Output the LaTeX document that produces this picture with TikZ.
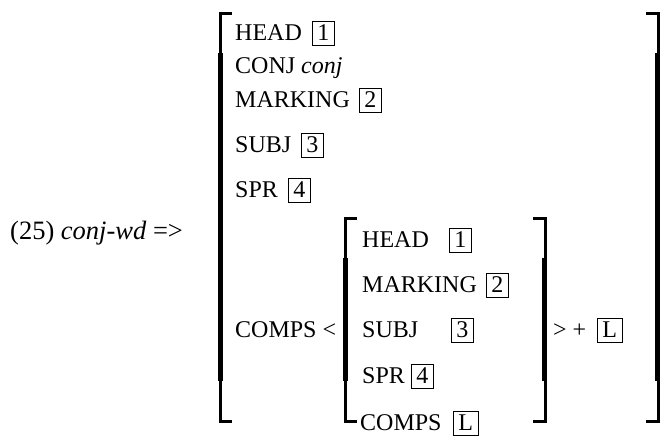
\documentclass[tikz,border=0pt]{standalone}
\usepackage{fontspec}
\setmainfont{Liberation Serif}
\usetikzlibrary{positioning}
\tikzset{
  feat/.style={anchor=base west, inner sep=0pt, font=\fontsize{24}{28}\selectfont},
  tag/.style={draw, line width=0.9pt, anchor=base west, inner xsep=5pt, inner ysep=0pt,
    text height=18.5pt, text depth=5.5pt, font=\fontsize{24}{28}\selectfont},
  brthin/.style={line width=3pt},
  brthick/.style={line width=4.7pt}
}
\begin{document}
\begin{tikzpicture}[x=1pt, y=-1pt]
  \useasboundingbox (0,0) rectangle (662,440);
  % rule name
  \node[feat, font=\fontsize{26.5}{30}\selectfont] (rule) at (10,239) {(25) \textit{conj-wd} =>};
  % brackets: x, top, bottom, direction
  \foreach \x/\t/\b/\d in {220/13/421/1, 658/13/421/-1, 345/218/421/1, 545/218/421/-1} {
    \draw[brthin] (\x+12*\d,\t) -- (\x,\t) -- (\x,\t+40);
    \draw[brthick] (\x+0.8*\d,\t+40) -- (\x+0.8*\d,\b-40);
    \draw[brthin] (\x,\b-40) -- (\x,\b) -- (\x+12*\d,\b);
  }
  % outer matrix
  \node[feat] (head) at (235,40) {HEAD};
  \node[tag] (h1) at (312,40) {1};
  \node[feat] (conj) at (235,73) {CONJ \textit{conj}};
  \node[feat] (mark) at (235,107) {MARKING};
  \node[tag] (m2) at (359,107) {2};
  \node[feat] (subj) at (235,152) {SUBJ};
  \node[tag] (s3) at (301,152) {3};
  \node[feat] (spr) at (235,197) {SPR};
  \node[tag] (p4) at (288,197) {4};
  \node[feat] (comps) at (235,337) {COMPS <};
  % inner matrix
  \node[feat] (ihead) at (362,247) {HEAD};
  \node[tag] (ih1) at (449,247) {1};
  \node[feat] (imark) at (362,292) {MARKING};
  \node[tag] (im2) at (486,292) {2};
  \node[feat] (isubj) at (362,337) {SUBJ};
  \node[tag] (is3) at (451,337) {3};
  \node[feat] (ispr) at (362,383) {SPR};
  \node[tag] (ip4) at (411,383) {4};
  \node[feat] (icomps) at (360,430) {COMPS};
  \node[tag] (icl) at (453,430) {L};
  % append
  \node[feat] (plus) at (553,337) {> +};
  \node[tag] (pl) at (597,337) {L};
\end{tikzpicture}
\end{document}
